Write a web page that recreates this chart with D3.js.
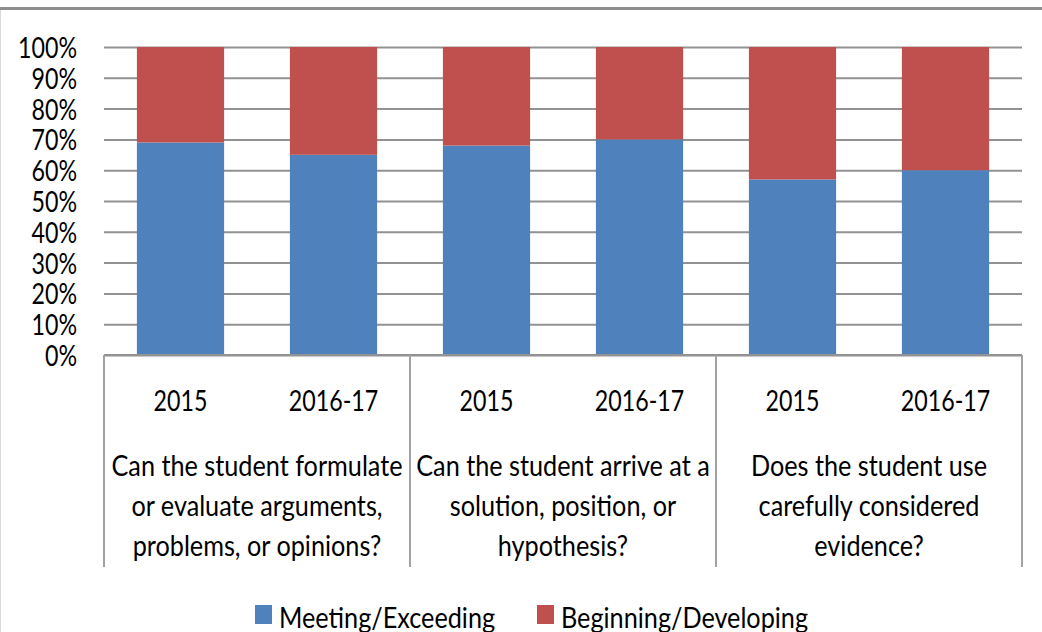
<!DOCTYPE html>
<html lang="en">
  <head>
    <title>Critical thinking results</title>
    <script src="https://d3js.org/d3.v7.min.js"></script>
    <style>
      body { margin: 0; background: #fff; }
      text { font-family: Lato, "Open Sans", sans-serif; font-size: 29px; fill: #000; }
    </style>
  </head>
  <body>
    <div id="content"></div>
    <script>
      // data
      var questions = [
        ["Can the student formulate", "or evaluate arguments,", "problems, or opinions?"],
        ["Can the student arrive at a", "solution, position, or", "hypothesis?"],
        ["Does the student use", "carefully considered", "evidence?"]
      ];
      var years = ["2015", "2016-17"];
      var meeting = [0.69, 0.65, 0.68, 0.70, 0.57, 0.60];
      var beginning = [0.31, 0.35, 0.32, 0.30, 0.43, 0.40];
      var seriesNames = ["Meeting/Exceeding", "Beginning/Developing"];
      var yTicks = [0, 0.1, 0.2, 0.3, 0.4, 0.5, 0.6, 0.7, 0.8, 0.9, 1];

      var width = 1042;
      var height = 632;
      var plotLeft = 104, plotRight = 1022, plotTop = 47, plotBottom = 355;
      // squeeze text horizontally, the original font is narrower
      var sxText = 0.87;
      var sxNum = 0.8;
      var colors = ["#4f81bd", "#c0504d"];

      var svg = d3
        .select("#content")
        .append("svg")
        .attr("width", width)
        .attr("height", height);

      // frame bits
      svg.append("line")
        .attr("x1", 0).attr("x2", width).attr("y1", 8.5).attr("y2", 8.5)
        .attr("stroke", "#8e8e8e").attr("stroke-width", 3);
      svg.append("line")
        .attr("x1", 0.5).attr("x2", 0.5).attr("y1", 10).attr("y2", height)
        .attr("stroke", "#dadada").attr("stroke-width", 1);

      var rows = [];
      questions.forEach(function (q, qi) {
        years.forEach(function (yr, yi) {
          var i = qi * years.length + yi;
          rows.push({ key: i, year: yr, meeting: meeting[i], beginning: beginning[i] });
        });
      });

      var x = d3.scaleBand()
        .domain(rows.map(function (d) { return d.key; }))
        .range([plotLeft, plotRight])
        .paddingInner(0.43)
        .paddingOuter(0.215);

      var xGroup = d3.scaleBand()
        .domain(d3.range(questions.length))
        .range([plotLeft, plotRight]);

      var y = d3.scaleLinear().domain([0, 1]).range([plotBottom, plotTop]);

      function label(sel, tx, ty, str, anchor, sx) {
        return sel.append("text")
          .attr("transform", "translate(" + tx + "," + ty + ") scale(" + (sx || sxText) + ",1)")
          .attr("text-anchor", anchor || "middle")
          .text(str);
      }

      // gridlines + y labels
      var yAxis = svg.append("g")
        .attr("transform", "translate(" + plotLeft + ",0)")
        .call(d3.axisLeft(y)
          .tickValues(yTicks)
          .tickSize(-(plotRight - plotLeft))
          .tickFormat(d3.format(".0%")));
      yAxis.select(".domain").remove();
      yAxis.selectAll(".tick line").attr("stroke", "#929292").attr("stroke-width", 2);
      yAxis.selectAll(".tick text")
        .attr("x", null)
        .attr("dy", null)
        .attr("fill", "#000")
        .style("font-size", "29px")
        .style("font-family", "Lato, 'Open Sans', sans-serif")
        .attr("transform", "translate(-27,10.5) scale(" + sxNum + ",1)");

      // stacked bars
      var stack = d3.stack().keys(["meeting", "beginning"])(rows);
      svg.append("g")
        .selectAll("g")
        .data(stack)
        .enter()
        .append("g")
        .attr("fill", function (d, i) { return colors[i]; })
        .selectAll("rect")
        .data(function (d) { return d; })
        .enter()
        .append("rect")
        .attr("x", function (d) { return x(d.data.key); })
        .attr("width", x.bandwidth())
        .attr("y", function (d) { return y(d[1]); })
        .attr("height", function (d) { return y(d[0]) - y(d[1]); });

      // category axis
      svg.append("line")
        .attr("x1", plotLeft).attr("x2", plotRight).attr("y1", plotBottom).attr("y2", plotBottom)
        .attr("stroke", "#929292").attr("stroke-width", 2);

      var seps = xGroup.domain().map(function (d) { return xGroup(d); }).concat([plotRight]);
      svg.append("g")
        .selectAll("line")
        .data(seps)
        .enter()
        .append("line")
        .attr("x1", function (d) { return d; })
        .attr("x2", function (d) { return d; })
        .attr("y1", plotBottom)
        .attr("y2", 567)
        .attr("stroke", "#a2a2a2")
        .attr("stroke-width", 2);

      var yearLabels = svg.append("g");
      rows.forEach(function (d) {
        label(yearLabels, x(d.key) + x.bandwidth() / 2, 411, d.year, "middle", sxNum);
      });

      var qLabels = svg.append("g");
      questions.forEach(function (lines, qi) {
        lines.forEach(function (ln, li) {
          label(qLabels, xGroup(qi) + xGroup.bandwidth() / 2, 476 + li * 40, ln);
        });
      });

      // legend
      var legendX = [255, 537];
      var legend = svg.selectAll(".legend")
        .data(seriesNames)
        .enter()
        .append("g")
        .attr("class", "legend")
        .attr("transform", function (d, i) { return "translate(" + legendX[i] + ",605)"; });
      legend.append("rect")
        .attr("width", 17)
        .attr("height", 19)
        .attr("fill", function (d, i) { return colors[i]; });
      legend.each(function (d) {
        label(d3.select(this), 24, 23, d, "start");
      });
    </script>
  </body>
</html>
